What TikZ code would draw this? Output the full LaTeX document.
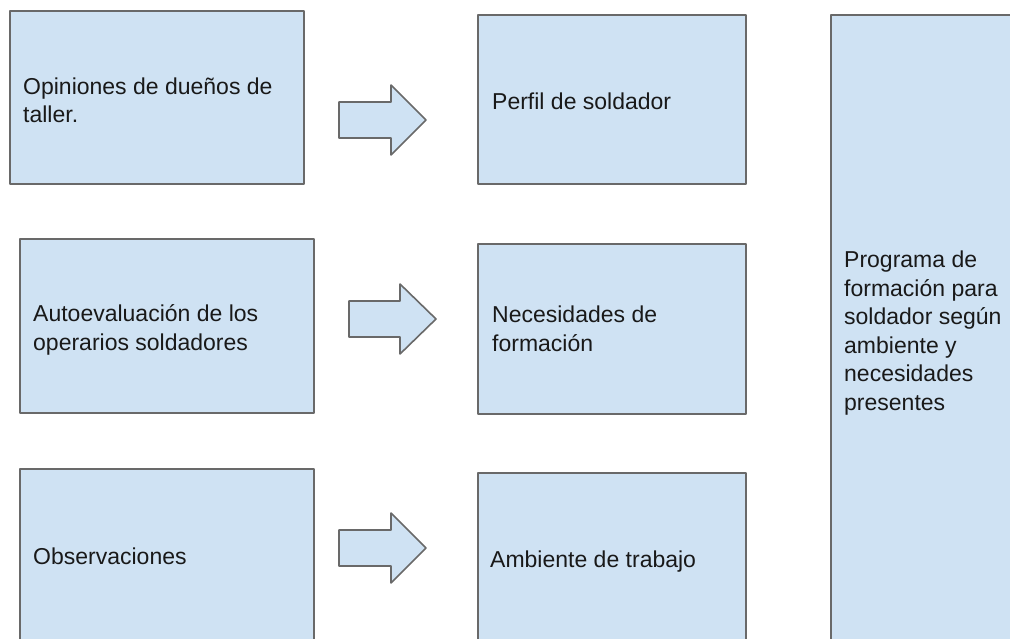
\documentclass[tikz,border=0pt]{standalone}
\usepackage{fontspec}
\setmainfont{Liberation Sans}
\definecolor{boxfill}{HTML}{CFE2F3}
\definecolor{boxline}{RGB}{105,105,105}
\definecolor{txt}{RGB}{25,25,25}
\tikzset{
  pane/.style={draw=boxline, fill=boxfill, line width=1.6pt, line join=round},
  lbl/.style={anchor=base west, inner sep=0pt, align=left, text=txt,
    font=\fontsize{23}{28.5}\selectfont},
}
\newcommand{\blockarrow}[4]{% tail x, head base x, tip x, centre y
  \draw[pane] (#1,#4-18) -- (#2,#4-18) -- (#2,#4-35) -- (#3,#4) -- (#2,#4+35) -- (#2,#4+18) -- (#1,#4+18) -- cycle;}
\begin{document}
\begin{tikzpicture}[x=1pt,y=-1pt]
\useasboundingbox (0,0) rectangle (1010,639);
\clip (0,0) rectangle (1010,639);
% left column
\draw[pane] (10,11) rectangle (304,184);
\node[lbl] (op) at (23,123) {Opiniones de dueños de\\taller.};
\draw[pane] (20,239) rectangle (314,413);
\node[lbl] (au) at (33,350) {Autoevaluación de los\\operarios soldadores};
\draw[pane] (20,469) rectangle (314,670);
\node[lbl] (ob) at (33,564) {Observaciones};
% arrows
\blockarrow{339}{391}{426}{120}
\blockarrow{349}{400}{436}{319}
\blockarrow{339}{391}{426}{548}
% middle column
\draw[pane] (478,15) rectangle (746,184);
\node[lbl] (pe) at (492,110) {Perfil de soldador};
\draw[pane] (478,244) rectangle (746,414);
\node[lbl] (ne) at (492,351) {Necesidades de\\formación};
\draw[pane] (478,473) rectangle (746,670);
\node[lbl] (am) at (490,567) {Ambiente de trabajo};
% right column
\draw[pane] (831,15) rectangle (1040,670);
\node[lbl] (pr) at (844,410) {Programa de\\formación para\\soldador según\\ambiente y\\necesidades\\presentes};
\end{tikzpicture}
\end{document}
